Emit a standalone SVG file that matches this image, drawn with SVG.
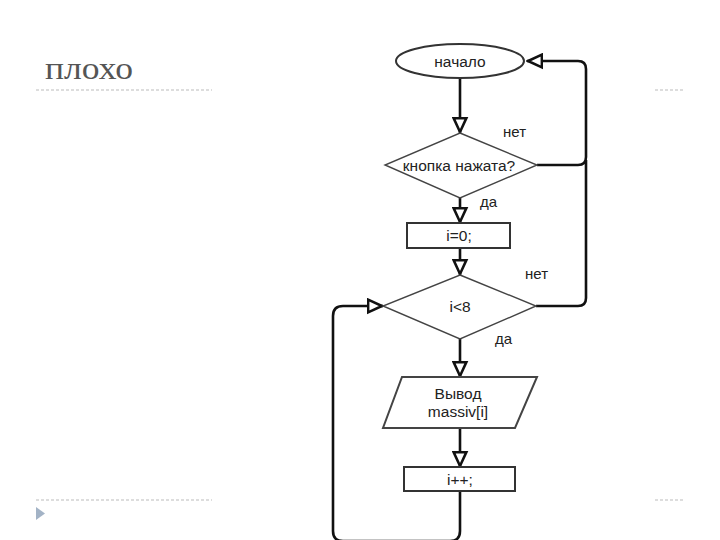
<svg xmlns="http://www.w3.org/2000/svg" width="720" height="540" viewBox="0 0 720 540">
<style>
.t{font-family:"Liberation Sans",Arial,sans-serif;font-size:15.5px;fill:#222;text-anchor:middle;dominant-baseline:central}
.lbl{font-family:"Liberation Sans",Arial,sans-serif;font-size:15px;fill:#222}
.c{fill:none;stroke:#111;stroke-width:2.6;stroke-linejoin:round}
.sh{fill:#fff;stroke:#333;stroke-width:2}
.dm{fill:#fff;stroke:#444;stroke-width:1.4}
.dash{stroke:#bbb;stroke-width:1;stroke-dasharray:3 2}
</style>
<defs>
<marker id="ah" markerUnits="userSpaceOnUse" markerWidth="17" markerHeight="17" viewBox="-1 -7.5 16 15" refX="14" refY="0" orient="auto">
<path d="M0,-6 L13,0 L0,6 Z" fill="#fff" stroke="#111" stroke-width="2.4" stroke-linejoin="miter"/>
</marker>
</defs>
<rect width="720" height="540" fill="#fff"/>
<g id="title">
<text x="45" y="79" font-family="'Liberation Serif',serif" font-size="31" fill="#555" textLength="88" lengthAdjust="spacingAndGlyphs">плохо</text>
</g>
<g id="decor">
<line class="dash" x1="36" y1="90" x2="212" y2="90"/>
<line class="dash" x1="655" y1="90" x2="685" y2="90"/>
<line class="dash" x1="36" y1="500" x2="212" y2="500"/>
<line class="dash" x1="655" y1="500" x2="685" y2="500"/>
<polygon points="36,507 45,513.5 36,520" fill="#a3b3c6"/>
</g>
<g id="connectors">
<line class="c" x1="460" y1="79" x2="460" y2="133" marker-end="url(#ah)"/>
<line class="c" x1="460" y1="198" x2="460" y2="223" marker-end="url(#ah)"/>
<line class="c" x1="460" y1="248" x2="460" y2="275" marker-end="url(#ah)"/>
<line class="c" x1="460" y1="339" x2="460" y2="377" marker-end="url(#ah)"/>
<line class="c" x1="460" y1="428" x2="460" y2="467" marker-end="url(#ah)"/>
<path class="c" d="M537,165 H578 Q586,165 586,157 V69 Q586,61 578,61 H527" marker-end="url(#ah)"/>
<path class="c" d="M536,306 H578 Q586,306 586,298 V160"/>
<path class="c" d="M460,491 V531 Q460,541 450,541 H343 Q333,541 333,531 V316 Q333,306 343,306 H383" marker-end="url(#ah)"/>
</g>
<g id="start">
<ellipse class="sh" cx="460" cy="61" rx="64" ry="17"/>
<text class="t" x="460" y="61">начало</text>
</g>
<g id="cond1">
<polygon class="dm" points="460,133 537,165 460,198 385,165"/>
<text class="t" x="459" y="165">кнопка нажата?</text>
<text class="lbl" x="503" y="137">нет</text>
<text class="lbl" x="480" y="207">да</text>
</g>
<g id="init">
<rect class="sh" x="407" y="223" width="103" height="25"/>
<text class="t" x="459" y="235.5">i=0;</text>
</g>
<g id="cond2">
<polygon class="dm" points="460,275 536,306 460,339 383,306"/>
<text class="t" x="460" y="306">i&lt;8</text>
<text class="lbl" x="525" y="279">нет</text>
<text class="lbl" x="495" y="344">да</text>
</g>
<g id="output">
<polygon class="dm" points="402,377 537,377 515,428 383,428" style="stroke-width:2"/>
<text class="t" x="458" y="393">Вывод</text>
<text class="t" x="458" y="411">massiv[i]</text>
</g>
<g id="inc">
<rect class="sh" x="404" y="467" width="111" height="24"/>
<text class="t" x="460" y="479">i++;</text>
</g>
</svg>
